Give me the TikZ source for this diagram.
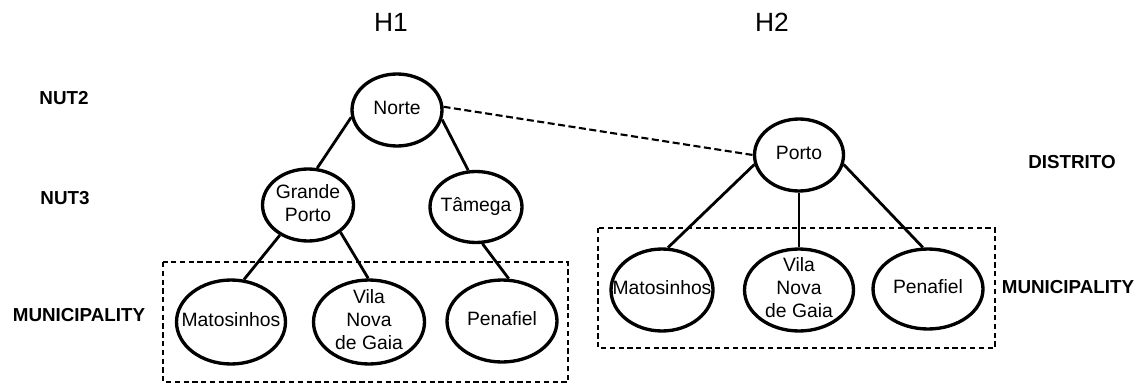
\documentclass[tikz,border=0pt]{standalone}
\usepackage{fontspec}
\setmainfont{Liberation Sans}
\usetikzlibrary{shapes.geometric}
\newcommand{\ovaltext}[1]{\makebox[0pt]{\raisebox{-0.25em}[0pt][0pt]{\begin{tabular}{@{}c@{}}#1\end{tabular}}}}
\begin{document}
\begin{tikzpicture}[x=0.02cm,y=-0.02cm,
    oval/.style={ellipse,draw,line width=1.9pt,inner sep=0pt,font=\fontsize{11}{13}\selectfont},
    link/.style={line width=1.6pt},
    crosslink/.style={line width=1.2pt,dash pattern=on 4pt off 2pt},
    group/.style={line width=0.6pt,dash pattern=on 3pt off 2pt},
    level/.style={font=\fontsize{10.7}{13}\selectfont\bfseries},
    title/.style={font=\fontsize{15}{18}\selectfont}]
                    \useasboundingbox (0,0) rectangle (1148,385);
                    \begin{scope}
                      \node[title] (h1) at (391,22) {H1};
                      \node[level] (nut2) at (64,98) {NUT2};
                      \node[level] (nut3) at (65,198) {NUT3};
                      \node[level] (munA) at (79,315) {MUNICIPALITY};
                      \draw[group] (163,262) rectangle (568,382);
                      \node[oval,minimum width=1.8cm,minimum height=1.44cm] (norte) at (397,110) {\ovaltext{Norte}};
                      \node[oval,minimum width=1.82cm,minimum height=1.44cm] (grandeporto) at (308,205) {\ovaltext{Grande\\Porto}};
                      \node[oval,minimum width=1.84cm,minimum height=1.42cm] (tamega) at (476,207) {\ovaltext{Tâmega}};
                      \node[oval,minimum width=2.18cm,minimum height=1.68cm] (matosinhosA) at (231,322) {\ovaltext{Matosinhos}};
                      \node[oval,minimum width=2.22cm,minimum height=1.68cm] (gaiaA) at (369,322) {\ovaltext{Vila\\Nova\\de Gaia}};
                      \node[oval,minimum width=2.2cm,minimum height=1.64cm] (penafielA) at (502,321) {\ovaltext{Penafiel}};
                      \draw[link] (norte.189) -- (grandeporto.76);
                      \draw[link] (norte.348) -- (tamega.102);
                      \draw[link] (grandeporto.227) -- (matosinhosA.73);
                      \draw[link] (grandeporto.320) -- (gaiaA.91);
                      \draw[link] (tamega.280) -- (penafielA.81);
                    \end{scope}
                    \begin{scope}
                      \node[title] (h2) at (772,22) {H2};
                      \node[level] (distrito) at (1072,162) {DISTRITO};
                      \node[level] (munB) at (1068,287) {MUNICIPALITY};
                      \draw[group] (598,228) rectangle (995,348);
                      \node[oval,minimum width=1.78cm,minimum height=1.44cm] (porto) at (799,155) {\ovaltext{Porto}};
                      \node[oval,minimum width=2.04cm,minimum height=1.64cm] (matosinhosB) at (662,290) {\ovaltext{Matosinhos}};
                      \node[oval,minimum width=2.18cm,minimum height=1.64cm] (gaiaB) at (799,290) {\ovaltext{Vila\\Nova\\de Gaia}};
                      \node[oval,minimum width=2.2cm,minimum height=1.6cm] (penafielB) at (928,289) {\ovaltext{Penafiel}};
                      \draw[link] (porto.192) -- (matosinhosB.82);
                      \draw[link] (porto.south) -- (gaiaB.north);
                      \draw[link] (porto.348) -- (penafielB.97);
                    \end{scope}
                    \draw[crosslink] (norte.4) -- (porto.180);
                    \end{tikzpicture}
\end{document}
